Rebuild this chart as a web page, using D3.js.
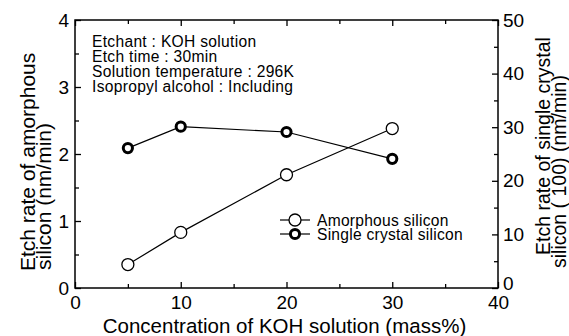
<!DOCTYPE html>
<html>
<head>
<meta charset="utf-8">
<script src="https://cdn.jsdelivr.net/npm/d3@7"></script>
<style>
  body { margin: 0; background: #fff; }
  svg text { font-family: "Liberation Sans", Arial, Helvetica, sans-serif; fill: #000; }
</style>
</head>
<body>
<div id="chart"></div>
<script>
// data
const concentration = [5, 10, 20, 30];          // KOH mass%
const amorphousRate = [0.35, 0.83, 1.69, 2.38];  // nm/min, left axis
const singleRate = [26.1, 30.1, 29.1, 24.1];     // nm/min, right axis
const xTicks = [0, 10, 20, 30, 40];
const yLeftTicks = [0, 1, 2, 3, 4];
const yRightTicks = [0, 10, 20, 30, 40, 50];
const notes = [
  "Etchant : KOH solution",
  "Etch time : 30min",
  "Solution temperature : 296K",
  "Isopropyl alcohol : Including"
];
const legendLabels = ["Amorphous silicon", "Single crystal silicon"];

const W = 569, H = 336;
const margin = {top: 20, right: 71, bottom: 48, left: 75};
const width = W - margin.left - margin.right,
      height = H - margin.top - margin.bottom;

const svg = d3.select("#chart").append("svg")
  .attr("width", W)
  .attr("height", H);

const g = svg.append("g")
  .attr("transform", "translate(" + margin.left + "," + margin.top + ")");

const x = d3.scaleLinear().domain([0, 40]).range([0, width]);
const yL = d3.scaleLinear().domain([0, 4]).range([height, 0]);
const yR = d3.scaleLinear().domain([0, 50]).range([height, 0]);

// minor ticks (no labels)
const minorX = d3.range(5, 40, 10);
const minorYL = d3.range(0.5, 4, 1);
const minorYR = d3.range(5, 50, 10);

function styleAxis(sel) {
  sel.select(".domain").remove();
  sel.selectAll("line").attr("stroke", "#000").attr("stroke-width", 1.3);
  sel.selectAll("text").style("font-size", "19px");
}

g.append("g").attr("transform", "translate(0," + height + ")")
  .call(d3.axisBottom(x).tickValues(minorX).tickSize(-4).tickFormat(""))
  .call(styleAxis);
g.append("g")
  .call(d3.axisTop(x).tickValues(minorX).tickSize(-4).tickFormat(""))
  .call(styleAxis);
g.append("g")
  .call(d3.axisLeft(yL).tickValues(minorYL).tickSize(-4).tickFormat(""))
  .call(styleAxis);
g.append("g").attr("transform", "translate(" + width + ",0)")
  .call(d3.axisRight(yR).tickValues(minorYR).tickSize(-4).tickFormat(""))
  .call(styleAxis);

// major ticks
const fmt = d3.format("d");
g.append("g").attr("transform", "translate(0," + height + ")")
  .call(d3.axisBottom(x).tickValues(xTicks).tickFormat(fmt).tickSizeInner(-6).tickSizeOuter(0).tickPadding(8))
  .call(styleAxis);
g.append("g")
  .call(d3.axisTop(x).tickValues(xTicks).tickSizeInner(-6).tickSizeOuter(0).tickFormat(""))
  .call(styleAxis);
g.append("g")
  .call(d3.axisLeft(yL).tickValues(yLeftTicks).tickFormat(fmt).tickSizeInner(-6).tickSizeOuter(0).tickPadding(6))
  .call(styleAxis);
g.append("g").attr("transform", "translate(" + width + ",0)")
  .call(d3.axisRight(yR).tickValues(yRightTicks).tickFormat(fmt).tickSizeInner(-6).tickSizeOuter(0).tickPadding(5))
  .call(styleAxis)
  .selectAll(".tick text").attr("dy", d => d === 0 ? "0.1em" : "0.32em");

// frame
g.append("rect")
  .attr("width", width).attr("height", height)
  .attr("fill", "none").attr("stroke", "#000").attr("stroke-width", 1.5);

// axis titles
g.append("text")
  .attr("x", (102 + 467) / 2 - margin.left).attr("y", 333 - margin.top)
  .attr("text-anchor", "middle")
  .style("font-size", "20.5px")
  .text("Concentration of KOH solution (mass%)");

const leftTitle = svg.append("text")
  .attr("transform", "translate(35,271)rotate(-90)")
  .style("font-size", "21px");
leftTitle.append("tspan").attr("x", 0).attr("y", 0).text("Etch rate of amorphous");
leftTitle.append("tspan").attr("x", 1).attr("y", 15.5).text("silicon (nm/min)");

const rightTitle = svg.append("text")
  .attr("transform", "translate(550,255)rotate(-90)")
  .style("font-size", "19.5px");
rightTitle.append("tspan").attr("x", 0).attr("y", 0).text("Etch rate of single crystal");
rightTitle.append("tspan").attr("x", -13).attr("y", 15.5).text("silicon ( 100) (nm/min)");

// notes
g.selectAll(".note").data(notes).enter().append("text")
  .attr("class", "note")
  .attr("x", 17)
  .attr("y", (d, i) => 27 + i * 15)
  .style("font-size", "15.6px")
  .style("letter-spacing", "0.3px")
  .text(d => d);

// lines
const amorphousPts = concentration.map((c, i) => [x(c), yL(amorphousRate[i])]);
const singlePts = concentration.map((c, i) => [x(c), yR(singleRate[i])]);
const line = d3.line();

g.append("path").attr("d", line(amorphousPts))
  .attr("fill", "none").attr("stroke", "#000").attr("stroke-width", 1.2);
g.append("path").attr("d", line(singlePts))
  .attr("fill", "none").attr("stroke", "#000").attr("stroke-width", 1.2);

g.selectAll(".amo").data(amorphousPts).enter().append("circle")
  .attr("class", "amo")
  .attr("cx", d => d[0]).attr("cy", d => d[1]).attr("r", 6)
  .attr("fill", "#fff").attr("stroke", "#000").attr("stroke-width", 1.3);
g.selectAll(".sin").data(singlePts).enter().append("circle")
  .attr("class", "sin")
  .attr("cx", d => d[0]).attr("cy", d => d[1]).attr("r", 4.6)
  .attr("fill", "#fff").attr("stroke", "#000").attr("stroke-width", 3);

// legend
const legend = svg.append("g").attr("transform", "translate(280,220)");
legendLabels.forEach((lab, i) => {
  const row = legend.append("g").attr("transform", "translate(0," + (i * 14) + ")");
  row.append("line").attr("x1", 0).attr("x2", 30)
    .attr("stroke", "#000").attr("stroke-width", 1.2);
  row.append("circle").attr("cx", 15).attr("cy", 0)
    .attr("r", i === 0 ? 6 : 4.6)
    .attr("fill", "#fff").attr("stroke", "#000")
    .attr("stroke-width", i === 0 ? 1.3 : 3);
  row.append("text").attr("x", 37).attr("y", 5.5)
    .style("font-size", "15.6px")
    .style("letter-spacing", "0.25px")
    .text(lab);
});
</script>
</body>
</html>
